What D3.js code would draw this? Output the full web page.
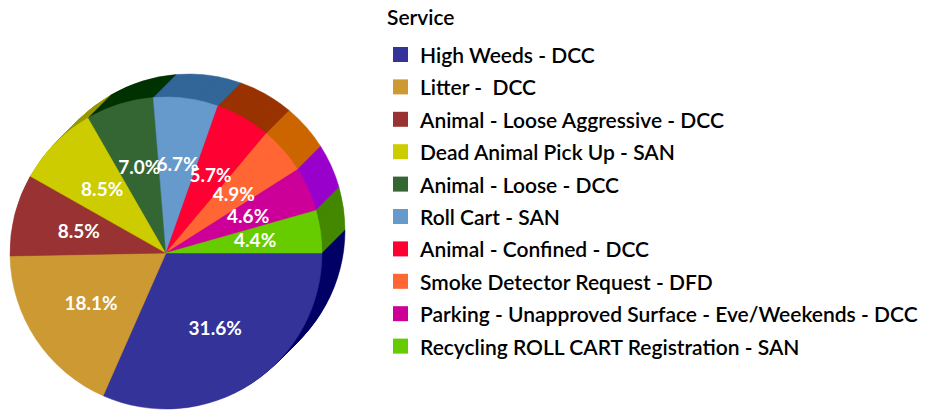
<!DOCTYPE html>
<html>
<head>
<meta charset="utf-8">
<script src="https://cdn.jsdelivr.net/npm/d3@7"></script>
<style>
  html, body { margin: 0; padding: 0; background: #fff; }
  svg { display: block; }
</style>
</head>
<body>
<svg id="chart" width="933" height="410"></svg>
<script>
const categories = [
  "High Weeds - DCC",
  "Litter -  DCC",
  "Animal - Loose Aggressive - DCC",
  "Dead Animal Pick Up - SAN",
  "Animal - Loose - DCC",
  "Roll Cart - SAN",
  "Animal - Confined - DCC",
  "Smoke Detector Request - DFD",
  "Parking - Unapproved Surface - Eve/Weekends - DCC",
  "Recycling ROLL CART Registration - SAN"
];
const values = [31.6, 18.1, 8.5, 8.5, 7.0, 6.7, 5.7, 4.9, 4.6, 4.4];
const topColors = ["#333399", "#CC9933", "#993333", "#CCCC00", "#336633",
                   "#6699CC", "#FF0033", "#FF6633", "#CC0099", "#66CC00"];
const sideColors = ["#000066", "#996600", "#660000", "#999900", "#003300",
                    "#336699", "#993300", "#CC6600", "#9900CC", "#448800"];
const legendTitle = "Service";

const svg = d3.select("#chart");
const cx = 166, cy = 253, R = 156;
const depthX = 23, depthY = -23;
const fontFamily = "Lato, 'Noto Sans', sans-serif";

const pie = d3.pie().sort(null).value(d => d)
  .startAngle(Math.PI / 2).endAngle(Math.PI / 2 + 2 * Math.PI);
const arcs = pie(values);
const arc = d3.arc().innerRadius(0).outerRadius(R);

// extruded side: stacked dark layers from back to front
const steps = 23;
const sideG = svg.append("g");
for (let k = steps; k >= 1; k--) {
  const t = k / steps;
  sideG.append("g")
    .attr("transform", `translate(${cx + depthX * t},${cy + depthY * t})`)
    .selectAll("path")
    .data(arcs)
    .join("path")
    .attr("d", arc)
    .attr("fill", (d, i) => sideColors[i])
    .attr("stroke", (d, i) => sideColors[i])
    .attr("stroke-width", 0.5);
}

// top face
const face = svg.append("g").attr("transform", `translate(${cx},${cy})`);
face.selectAll("path")
  .data(arcs)
  .join("path")
  .attr("d", arc)
  .attr("fill", (d, i) => topColors[i])
  .attr("stroke", (d, i) => topColors[i])
  .attr("stroke-width", 0.5);

// percent labels
const labelArc = d3.arc().innerRadius(90).outerRadius(90);
face.selectAll("text")
  .data(arcs)
  .join("text")
  .attr("transform", d => `translate(${labelArc.centroid(d)})`)
  .attr("text-anchor", "middle")
  .attr("dy", "0.36em")
  .attr("fill", "#fff")
  .attr("font-family", fontFamily)
  .attr("font-weight", "bold")
  .attr("font-size", 19)
  .text(d => d3.format(".1f")(d.data) + "%");

// legend
const legend = svg.append("g");
legend.append("text")
  .attr("x", 387).attr("y", 25)
  .attr("font-family", fontFamily)
  .attr("font-size", 21)
  .attr("font-weight", 600)
  .attr("fill", "#000")
  .text(legendTitle);

const rowY = d3.scalePoint().domain(categories).range([63, 63 + 32.4 * 9]);
const rows = legend.selectAll("g.row")
  .data(categories)
  .join("g")
  .attr("class", "row")
  .attr("transform", d => `translate(0,${rowY(d)})`);
rows.append("rect")
  .attr("x", 393).attr("y", -16)
  .attr("width", 15).attr("height", 15)
  .attr("fill", (d, i) => topColors[i]);
rows.append("text")
  .attr("x", 420).attr("y", 0)
  .attr("font-family", fontFamily)
  .attr("font-size", 21)
  .attr("font-weight", 600)
  .attr("fill", "#000")
  .style("white-space", "pre")
  .text(d => d);
</script>
</body>
</html>
